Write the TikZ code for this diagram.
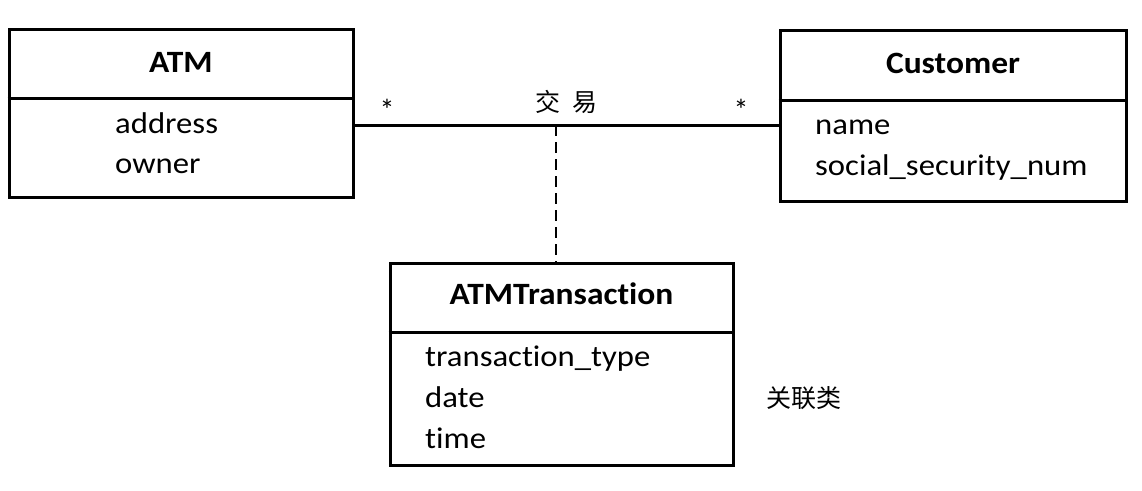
\documentclass[tikz,border=0pt]{standalone}
\usepackage{fontspec}
\setmainfont{Carlito}[Ligatures=CommonOff]
\newfontfamily\cjk{Noto Sans CJK SC}
\newcommand{\wideattr}[1]{\scalebox{1.09}[1]{#1}}
\newcommand{\widetitle}[1]{\scalebox{1.08}[1]{#1}}
\begin{document}
\begin{tikzpicture}[x=1pt,y=-1pt,
  box/.style={draw=black, line width=3pt, inner sep=0pt, fill=none},
  divider/.style={draw=black, line width=3pt},
  title/.style={font=\fontsize{31}{31}\selectfont\bfseries, inner sep=0pt, anchor=base},
  attr/.style={font=\fontsize{30}{30}\selectfont, inner sep=0pt, anchor=base west},
  assoc/.style={draw=black, line width=3pt},
  classlink/.style={draw=black, line width=2.8pt, dash pattern=on 11pt off 6pt},
  mult/.style={font=\fontsize{30}{30}\selectfont, inner sep=0pt},
  cjklabel/.style={font=\cjk\fontsize{25}{25}\selectfont, inner sep=0pt}]
\useasboundingbox (0,0) rectangle (1142,490);
% ATM
\node[box, minimum width=344pt, minimum height=168pt] (atm) at (181,113) {};
\coordinate (atmdiv) at (0,98);
\draw[divider] (atm.west |- atmdiv) -- (atm.east |- atmdiv);
\node[title] (atmtitle) at (181,72) {\widetitle{ATM}};
\node[attr] (atma1) at (115,133) {\wideattr{address}};
\node[attr] (atma2) at (115,173) {\wideattr{owner}};
% Customer
\node[box, minimum width=346pt, minimum height=171pt] (cust) at (953,115.5) {};
\coordinate (custdiv) at (0,100);
\draw[divider] (cust.west |- custdiv) -- (cust.east |- custdiv);
\node[title] (custtitle) at (953,73) {\widetitle{Customer}};
\node[attr] (custa1) at (815,134) {\wideattr{name}};
\node[attr] (custa2) at (815,175) {\wideattr{social\_security\_num}};
% ATMTransaction
\node[box, minimum width=343pt, minimum height=202pt] (trans) at (561.5,364) {};
\coordinate (transdiv) at (0,332);
\draw[divider] (trans.west |- transdiv) -- (trans.east |- transdiv);
\node[title] (transtitle) at (561.5,304) {\widetitle{ATMTransaction}};
\node[attr] (transa1) at (425,366) {\wideattr{transaction\_type}};
\node[attr] (transa2) at (425,407) {\wideattr{date}};
\node[attr] (transa3) at (425,448) {\wideattr{time}};
% association
\coordinate (assocy) at (0,125);
\draw[assoc] (atm.east |- assocy) -- (cust.west |- assocy);
\coordinate (linkx) at (556,0);
\draw[classlink] (linkx |- assocy) -- (linkx |- trans.north);
\node[mult] (m1) at (387,110) {*};
\node[mult] (m2) at (741,110) {*};
\node[cjklabel] (assocname) at (566,102) {交\hspace{12pt}易};
\node[cjklabel, anchor=west] (assoclabel) at (766,398) {关联类};
\end{tikzpicture}
\end{document}
